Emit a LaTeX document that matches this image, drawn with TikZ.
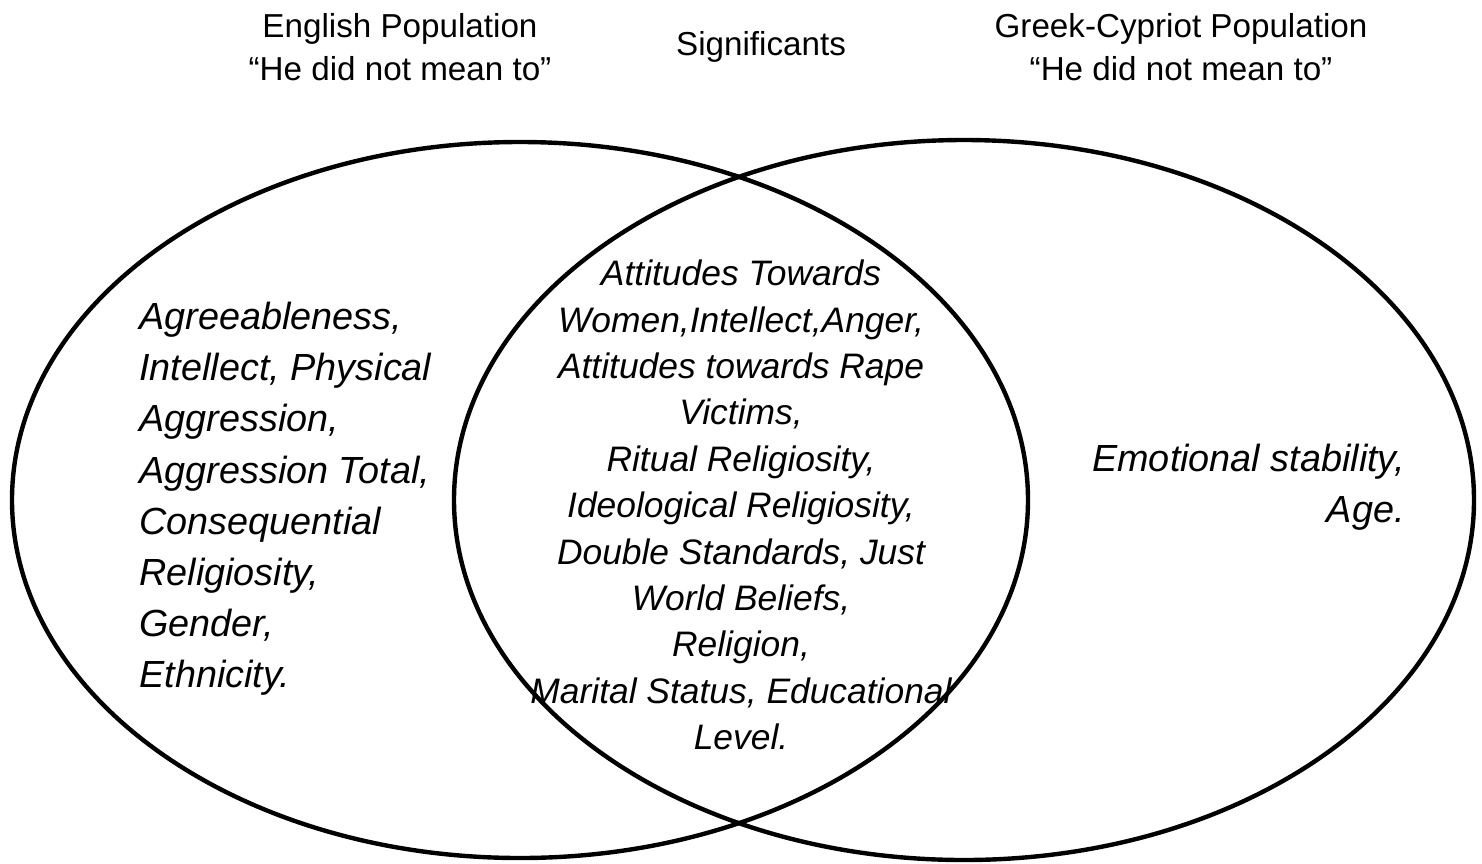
\documentclass[tikz,border=0pt]{standalone}
\usepackage{fontspec}
\setmainfont{Liberation Sans}
\begin{document}
\begin{tikzpicture}[x=0.5pt,y=-0.5pt,
  set/.style={draw=black,line width=2.2pt},
  head/.style={align=center,inner sep=0pt,font=\fontsize{16.6}{21.5}\selectfont},
  side/.style={inner sep=0pt,font=\fontsize{18.9}{25.6}\selectfont\itshape},
  mid/.style={align=center,inner sep=0pt,font=\fontsize{17.7}{23.2}\selectfont\itshape}]
\useasboundingbox (0,0) rectangle (1482,863);
\node[head] (eng) at (400,47) {English Population\\``He did not mean to''};
\node[head] (sig) at (761,47) {Significants};
\node[head] (grk) at (1181,47) {Greek-Cypriot Population\\``He did not mean to''};
\node[side,align=left,anchor=west] (lt) at (139,499) {Agreeableness,\\Intellect, Physical\\Aggression,\\Aggression Total,\\Consequential\\Religiosity,\\Gender,\\Ethnicity.};
\node[mid] (ct) at (741,505) {Attitudes Towards\\Women,Intellect,Anger,\\Attitudes towards Rape\\Victims,\\Ritual Religiosity,\\Ideological Religiosity,\\Double Standards, Just\\World Beliefs,\\Religion,\\Marital Status, Educational\\Level.};
\node[side,align=right,anchor=east] (rt) at (1405,487) {Emotional stability,\\Age.};
\draw[set] (520,500) ellipse [x radius=254pt, y radius=179pt];
\draw[set] (964,500) ellipse [x radius=255pt, y radius=180pt];
\end{tikzpicture}
\end{document}
